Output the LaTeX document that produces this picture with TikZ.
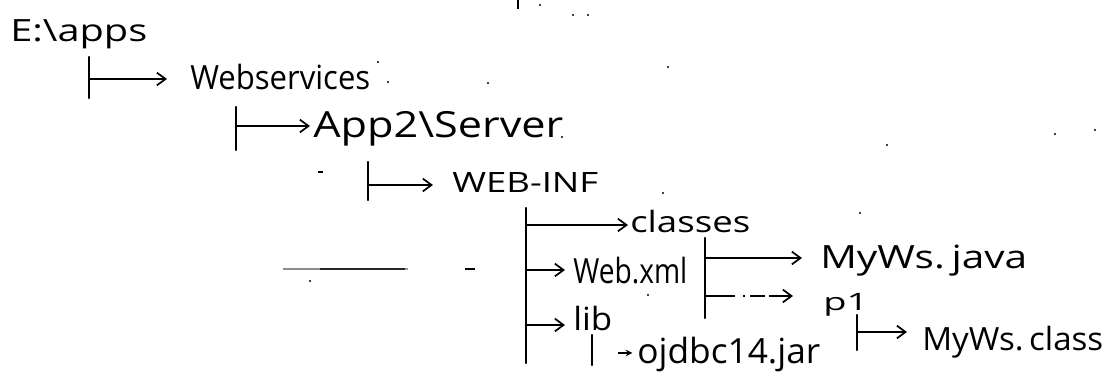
\documentclass[tikz,border=0pt]{standalone}
\usepackage{fontspec}
\setmainfont{Open Sans}
\usetikzlibrary{arrows.meta}
% stretch a label horizontally to a given width, keeping its height
\newcommand\hwlabel[2]{\resizebox{#1}{\height}{#2}}
\begin{document}
\begin{tikzpicture}[x=0.75pt,y=-0.75pt,
  bar/.style={line width=1.6pt,line cap=round},
  arr/.style={line width=1.3pt,line cap=round,-{Straight Barb[length=6.5pt,width=9.5pt]}},
  dotarr/.style={line width=1.3pt,
    dash pattern=on 22.5pt off 6pt on 1.5pt off 3.75pt on 11.25pt off 3pt,
    -{Straight Barb[length=6.5pt,width=9.5pt]}},
  tinyarr/.style={line width=1.3pt,-{Stealth[length=5pt,width=5pt]}},
  lbl/.style={inner sep=0pt,anchor=base west},
  speck/.style={fill=black}]

\useasboundingbox (0,0) rectangle (1109,374);
\fill[white] (0,0) rectangle (1109,374);

% folder and file names
\node[lbl,font=\fontsize{23}{28}\selectfont] (apps)    at (10,42)   {\hwlabel{102.75pt}{E:\textbackslash apps}};
\node[lbl,font=\fontsize{25}{30}\selectfont] (ws)      at (190,90)  {\hwlabel{135pt}{Webservices}};
\node[lbl,font=\fontsize{27}{32}\selectfont] (app2)    at (313,138) {\hwlabel{187.5pt}{App2\textbackslash Server}};
\node[lbl,font=\fontsize{21}{26}\selectfont] (webinf)  at (452,192) {\hwlabel{109.5pt}{WEB-INF}};
\node[lbl,font=\fontsize{22}{26}\selectfont] (classes) at (630,232) {\hwlabel{90pt}{classes}};
\node[lbl,font=\fontsize{26}{30}\selectfont] (webxml)  at (573,283) {\hwlabel{85.5pt}{Web.xml}};
\node[lbl,font=\fontsize{24}{28}\selectfont] (lib)     at (573,330) {\hwlabel{29.25pt}{lib}};
\node[lbl,font=\fontsize{26}{30}\selectfont] (ojdbc)   at (637,363) {\hwlabel{137.25pt}{ojdbc14.jar}};
\node[lbl,font=\fontsize{24}{28}\selectfont] (java)    at (820,268) {\hwlabel{155.25pt}{MyWs.\,java}};
\node[lbl,font=\fontsize{18}{22}\selectfont] (p1)      at (823,310) {\hwlabel{33.75pt}{p1}};
\node[lbl,font=\fontsize{24}{28}\selectfont] (mclass)  at (922,350) {\hwlabel{135.75pt}{MyWs.\,class}};

% tree brackets
\coordinate (b1t) at (89,57);   \coordinate (b1b) at (89,98);   \coordinate (b1m) at (89,79);
\coordinate (b2t) at (236,107); \coordinate (b2b) at (236,150); \coordinate (b2m) at (236,126);
\coordinate (b3t) at (368,162); \coordinate (b3b) at (368,200); \coordinate (b3m) at (368,185);
\coordinate (b4t) at (526,208); \coordinate (b4b) at (526,363);
\coordinate (b4a) at (526,225); \coordinate (b4c) at (526,270); \coordinate (b4d) at (526,325);
\coordinate (b5t) at (705,238); \coordinate (b5b) at (705,318);
\coordinate (b5a) at (705,258); \coordinate (b5c) at (705,296);
\coordinate (b6t) at (857,315); \coordinate (b6b) at (857,350); \coordinate (b6m) at (857,332);
\coordinate (b7t) at (592,335); \coordinate (b7b) at (592,365);
\coordinate (ojs) at (618,353);

\foreach \n in {1,...,7} \draw[bar] (b\n t) -- (b\n b);

\draw[arr,shorten >=17.25pt] (b1m) -- (b1m -| ws.west);
\draw[arr,shorten >=2.25pt]  (b2m) -- (b2m -| app2.west);
\draw[arr,shorten >=14.25pt] (b3m) -- (b3m -| webinf.west);
\draw[arr,shorten >=1.5pt]   (b4a) -- (b4a -| classes.west);
\draw[arr,shorten >=6pt]     (b4c) -- (b4c -| webxml.west);
\draw[arr,shorten >=6pt]     (b4d) -- (b4d -| lib.west);
\draw[arr,shorten >=13.5pt]  (b5a) -- (b5a -| java.west);
\draw[dotarr,shorten >=22.5pt] (b5c) -- (b5c -| p1.west);
\draw[arr,shorten >=11.25pt] (b6m) -- (b6m -| mclass.west);
\draw[tinyarr,shorten >=3.5pt] (ojs) -- (ojs -| ojdbc.west);

% stray pencil marks
\draw[black!45,line width=1pt] (283,269) -- (320,269);
\draw[black!85,line width=1pt] (320,269) -- (405,269);
\draw[black!40,line width=1pt] (405,269) -- (408,269);
\draw[line width=1.6pt] (465,269) -- (475,269);
\draw[line width=1.6pt] (318,172) -- (323,172);
\draw[line width=1.8pt] (518,0) -- (518,9);
\foreach \p in {(310,281),(378,62),(388,82),(488,83),(668,67),(562,137),(663,193),
                (648,295),(860,213),(887,145),(1055,134),(1095,130),(540,5),(573,15),(588,15)}
  \fill[speck] \p circle (0.9pt);
\end{tikzpicture}
\end{document}
